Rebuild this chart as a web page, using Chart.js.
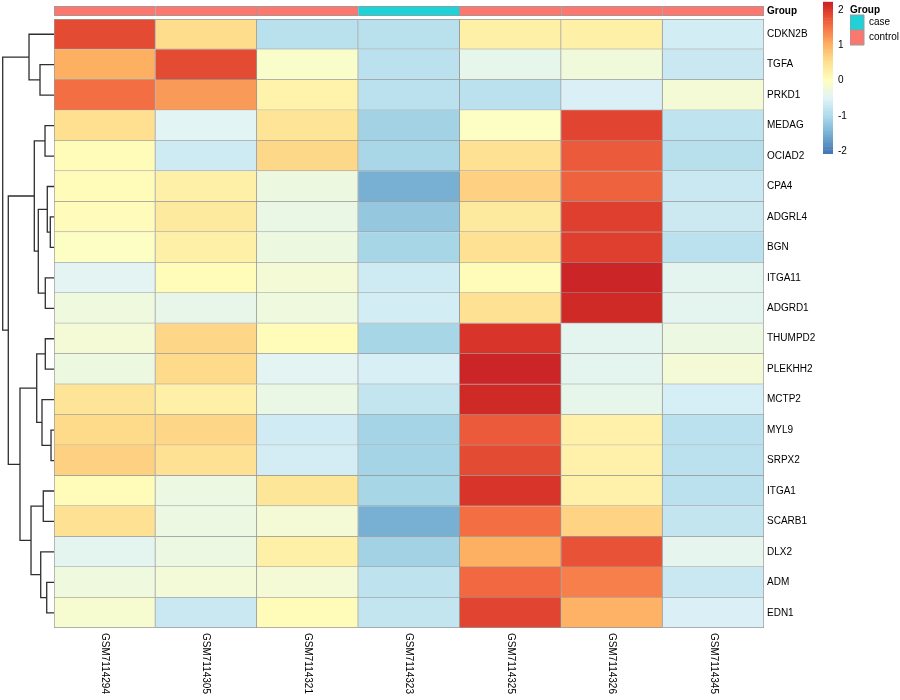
<!DOCTYPE html>
<html>
<head>
<meta charset="utf-8">
<title>Heatmap</title>
<script src="https://cdn.jsdelivr.net/npm/chart.js@4.4.0/dist/chart.umd.min.js"></script>
<style>
  body { margin: 0; background: #fff; }
  #wrap { position: relative; width: 900px; height: 700px; overflow: hidden; }
  #wrap canvas { position: absolute; }
</style>
</head>
<body>
<div id="wrap">
  <canvas id="heat" width="900" height="700" style="left:0;top:0"></canvas>
  <canvas id="annot" width="900" height="22" style="left:0;top:0"></canvas>
  <canvas id="dendro" width="54" height="700" style="left:0;top:0"></canvas>
  <canvas id="cbar" width="77" height="160" style="left:823px;top:0"></canvas>
  <canvas id="glegend" width="50" height="100" style="left:850px;top:0"></canvas>
</div>
<script>
// ---- data ----
const genes = ['CDKN2B', 'TGFA', 'PRKD1', 'MEDAG', 'OCIAD2', 'CPA4', 'ADGRL4', 'BGN', 'ITGA11', 'ADGRD1',
  'THUMPD2', 'PLEKHH2', 'MCTP2', 'MYL9', 'SRPX2', 'ITGA1', 'SCARB1', 'DLX2', 'ADM', 'EDN1'];
const samples = ['GSM7114294', 'GSM7114305', 'GSM7114321', 'GSM7114323', 'GSM7114325', 'GSM7114326', 'GSM7114345'];
const sampleGroup = ['control', 'control', 'control', 'case', 'control', 'control', 'control'];
const groupNames = ['case', 'control'];

// row-scaled expression, one row per gene, columns in sample order
const zScores = [
  [ 1.85,  0.55, -0.90, -0.90,  0.25,  0.25, -0.65], // CDKN2B
  [ 1.03,  1.85, -0.10, -0.88, -0.40, -0.25, -0.75], // TGFA
  [ 1.55,  1.20,  0.22, -0.88, -0.88, -0.58, -0.20], // PRKD1
  [ 0.52, -0.48,  0.45, -1.12, -0.05,  1.90, -0.83], // MEDAG
  [ 0.05, -0.70,  0.60, -1.06,  0.50,  1.72, -0.92], // OCIAD2
  [ 0.07,  0.25, -0.30, -1.52,  0.68,  1.65, -0.75], // CPA4
  [ 0.06,  0.35, -0.35, -1.25,  0.35,  1.95, -0.72], // ADGRL4
  [-0.05,  0.25, -0.30, -1.08,  0.50,  1.95, -0.88], // BGN
  [-0.47,  0.05, -0.20, -0.70,  0.05,  2.20, -0.45], // ITGA11
  [-0.28, -0.38, -0.28, -0.65,  0.50,  2.15, -0.45], // ADGRD1
  [-0.20,  0.62,  0.05, -1.08,  2.05, -0.45, -0.32], // THUMPD2
  [-0.30,  0.58, -0.47, -0.60,  2.20, -0.45, -0.20], // PLEKHH2
  [ 0.45,  0.25, -0.35, -0.80,  2.15, -0.40, -0.62], // MCTP2
  [ 0.58,  0.62, -0.68, -1.10,  1.72,  0.23, -0.88], // MYL9
  [ 0.68,  0.50, -0.64, -1.10,  1.85,  0.23, -0.88], // SRPX2
  [ 0.05, -0.32,  0.42, -1.08,  2.05,  0.23, -0.88], // ITGA1
  [ 0.50, -0.32, -0.20, -1.52,  1.55,  0.65, -0.80], // SCARB1
  [-0.45, -0.32,  0.25, -1.12,  1.03,  1.78, -0.42], // DLX2
  [-0.28, -0.22, -0.20, -0.85,  1.60,  1.42, -0.75], // ADM
  [-0.15, -0.75,  0.05, -0.80,  1.90,  1.00, -0.58]  // EDN1
];

// row clustering, hclust style: negative = leaf (1-based row), positive = earlier merge
const rowMerge = [
  [-14, -15, 0.58], [-7, -8, 0.72], [-6, 2, 1.31], [-19, -20, 1.42], [-9, -10, 1.70],
  [-11, -12, 1.70], [-4, -5, 1.75], [-16, -17, 2.09], [-13, 1, 2.34], [-18, 4, 2.59],
  [-2, -3, 2.73], [3, 5, 3.06], [6, 9, 3.37], [7, 12, 3.84], [8, 10, 4.48],
  [-1, 11, 4.87], [13, 15, 6.63], [14, 17, 8.91], [16, 18, 10.0]
];

const legendRange = [-2.09, 2.25];
const legendTicks = [-2, -1, 0, 1, 2];

// ---- styles ----
const FONT = "'Liberation Sans', Arial, Helvetica, sans-serif";
const FS = 10;
const palette = ['#313695', '#4575B4', '#74ADD1', '#ABD9E9', '#E0F3F8', '#FFFFBF',
  '#FEE090', '#FDAE61', '#F46D43', '#D73027', '#A50026'];
const colorLimits = [-2.6, 2.6];
const groupColors = { case: '#1FD2D8', control: '#FA7870' };
const cellBorder = '#9a9a9a';

Chart.defaults.font.family = FONT;
Chart.defaults.font.size = FS;
Chart.defaults.color = '#000';
Chart.defaults.animation = false;

function hexRgb(h) {
  return [1, 3, 5].map(i => parseInt(h.slice(i, i + 2), 16));
}

function valueColor(v) {
  let t = (v - colorLimits[0]) / (colorLimits[1] - colorLimits[0]);
  t = Math.min(1, Math.max(0, t)) * (palette.length - 1);
  const i = Math.min(palette.length - 2, Math.floor(t));
  const f = t - i;
  const a = hexRgb(palette[i]);
  const b = hexRgb(palette[i + 1]);
  const c = a.map((x, k) => Math.round(x + (b[k] - x) * f));
  return `rgb(${c[0]},${c[1]},${c[2]})`;
}

// fixed-width right axis so the plot area lines up across canvases
function fixedAxis(width) {
  return scale => {
    scale.width = width;
    scale.paddingTop = 0;
    scale.paddingBottom = 0;
  };
}

// column labels, rotated to read top-down
const sampleLabels = {
  id: 'sampleLabels',
  afterDraw(chart) {
    const { ctx, chartArea, scales } = chart;
    ctx.save();
    ctx.font = `${FS}px ${FONT}`;
    ctx.fillStyle = '#000';
    ctx.textAlign = 'left';
    ctx.textBaseline = 'middle';
    samples.forEach((s, j) => {
      ctx.save();
      ctx.translate(scales.x.getPixelForValue(j + 0.5), chartArea.bottom + 5);
      ctx.rotate(Math.PI / 2);
      ctx.fillText(s, 0, 0);
      ctx.restore();
    });
    ctx.restore();
  }
};

// ---- heatmap body ----
new Chart(document.getElementById('heat'), {
  type: 'bar',
  data: {
    labels: genes,
    datasets: samples.map((s, j) => ({
      label: s,
      data: genes.map(() => 1),
      backgroundColor: genes.map((g, i) => valueColor(zScores[i][j])),
      borderColor: cellBorder,
      borderWidth: ctx => ({ top: ctx.dataIndex === 0 ? 1 : 0, left: j === 0 ? 1 : 0, right: 1, bottom: 1 }),
      borderSkipped: false,
      barPercentage: 1,
      categoryPercentage: 1
    }))
  },
  options: {
    indexAxis: 'y',
    responsive: false,
    layout: { padding: { left: 54, top: 19, bottom: 72, right: 0 } },
    plugins: { legend: { display: false }, tooltip: { enabled: false } },
    scales: {
      x: { stacked: true, min: 0, max: samples.length, display: false },
      y: {
        stacked: true,
        position: 'right',
        grid: { display: false, drawTicks: false },
        border: { display: false },
        ticks: { padding: 3, autoSkip: false, color: '#000' },
        afterFit: fixedAxis(136)
      }
    }
  },
  plugins: [sampleLabels]
});

// ---- annotation bar ----
new Chart(document.getElementById('annot'), {
  type: 'bar',
  data: {
    labels: ['Group'],
    datasets: samples.map((s, j) => ({
      label: s,
      data: [1],
      backgroundColor: groupColors[sampleGroup[j]],
      borderColor: cellBorder,
      borderWidth: { top: 1, bottom: 1, left: j === 0 ? 1 : 0, right: 1 },
      borderSkipped: false,
      barPercentage: 1,
      categoryPercentage: 1
    }))
  },
  options: {
    indexAxis: 'y',
    responsive: false,
    layout: { padding: { left: 54, top: 6, bottom: 6, right: 0 } },
    plugins: { legend: { display: false }, tooltip: { enabled: false } },
    scales: {
      x: { stacked: true, min: 0, max: samples.length, display: false },
      y: {
        stacked: true,
        position: 'right',
        grid: { display: false, drawTicks: false },
        border: { display: false },
        ticks: { padding: 3, font: { weight: 'bold' }, color: '#000' },
        afterFit: fixedAxis(136)
      }
    }
  }
});

// ---- row dendrogram ----
const nodePos = [];
function childPos(id) {
  return id < 0 ? { y: -id - 0.5, h: 0 } : nodePos[id - 1];
}
const dendroSets = rowMerge.map(([a, b, h]) => {
  const l = childPos(a);
  const r = childPos(b);
  nodePos.push({ y: (l.y + r.y) / 2, h });
  return {
    data: [{ x: l.h, y: l.y }, { x: h, y: l.y }, { x: h, y: r.y }, { x: r.h, y: r.y }],
    showLine: true,
    borderColor: '#2e2e2e',
    borderWidth: 1.3,
    pointRadius: 0,
    fill: false,
    clip: false
  };
});
const rootHeight = rowMerge[rowMerge.length - 1][2];

new Chart(document.getElementById('dendro'), {
  type: 'scatter',
  data: { datasets: dendroSets },
  options: {
    responsive: false,
    layout: { padding: { left: 0, right: 0, top: 19, bottom: 72 } },
    plugins: { legend: { display: false }, tooltip: { enabled: false } },
    scales: {
      x: { type: 'linear', reverse: true, min: 0, max: rootHeight * 54 / 51.3, display: false },
      y: { type: 'linear', reverse: true, min: 0, max: genes.length, display: false }
    }
  }
});

// ---- colour key ----
const SLICES = 100;
const keySets = [];
for (let k = 0; k < SLICES; k++) {
  const lo = legendRange[0] + (legendRange[1] - legendRange[0]) * k / SLICES;
  const hi = legendRange[0] + (legendRange[1] - legendRange[0]) * (k + 1) / SLICES;
  keySets.push({
    data: [[lo, hi]],
    backgroundColor: valueColor((lo + hi) / 2),
    borderWidth: 0,
    grouped: false,
    barPercentage: 1,
    categoryPercentage: 1
  });
}

new Chart(document.getElementById('cbar'), {
  type: 'bar',
  data: { labels: [''], datasets: keySets },
  options: {
    responsive: false,
    layout: { padding: { left: 0, right: 0, top: 1.7, bottom: 5.9 } },
    plugins: { legend: { display: false }, tooltip: { enabled: false } },
    scales: {
      x: { display: false },
      y: {
        position: 'right',
        min: legendRange[0],
        max: legendRange[1],
        afterBuildTicks: scale => { scale.ticks = legendTicks.map(v => ({ value: v })); },
        grid: { display: false, drawTicks: false },
        border: { display: false },
        ticks: { padding: 5, color: '#000', callback: v => String(v) },
        afterFit: fixedAxis(67)
      }
    }
  }
});

// ---- group legend ----
new Chart(document.getElementById('glegend'), {
  type: 'bar',
  data: {
    labels: [],
    datasets: groupNames.map(g => ({
      label: g,
      data: [],
      backgroundColor: groupColors[g],
      borderColor: cellBorder,
      borderWidth: 1
    }))
  },
  options: {
    responsive: false,
    scales: { x: { display: false }, y: { display: false } },
    plugins: {
      tooltip: { enabled: false },
      legend: {
        position: 'top',
        align: 'start',
        onClick: null,
        labels: { boxWidth: 14, boxHeight: 15, padding: 0, color: '#000', font: { size: FS } },
        title: {
          display: true,
          text: 'Group',
          position: 'start',
          color: '#000',
          font: { size: FS, weight: 'bold', lineHeight: 1 },
          padding: { top: 5, bottom: 0 }
        }
      }
    }
  }
});
</script>
</body>
</html>
